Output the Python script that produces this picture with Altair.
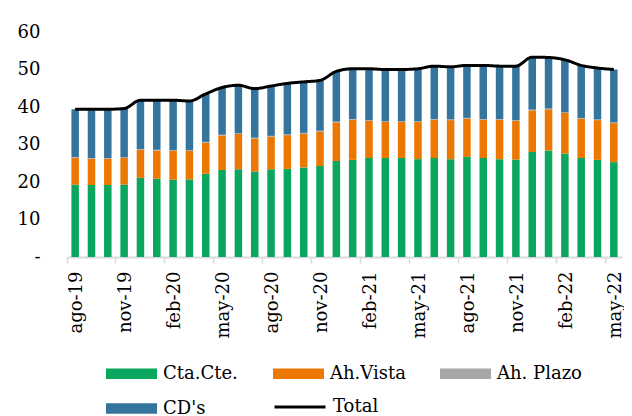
import altair as alt
import pandas as pd

meses = ["ago-19","sep-19","oct-19","nov-19","dic-19","ene-20","feb-20","mar-20","abr-20","may-20",
         "jun-20","jul-20","ago-20","sep-20","oct-20","nov-20","dic-20","ene-21","feb-21","mar-21",
         "abr-21","may-21","jun-21","jul-21","ago-21","sep-21","oct-21","nov-21","dic-21","ene-22",
         "feb-22","mar-22","abr-22","may-22"]

cta_cte = [19.3,19.2,19.2,19.3,21.1,20.9,20.6,20.7,22.2,23.2,23.4,22.8,23.4,23.5,23.9,24.3,25.6,
           25.9,26.4,26.4,26.4,26.1,26.4,26.1,26.7,26.4,26.1,26.0,28.0,28.4,27.6,26.4,25.9,25.3]
ah_vista = [7.2,7.0,7.0,7.1,7.5,7.5,7.7,7.6,8.3,9.2,9.4,8.8,8.7,9.0,9.0,9.2,10.3,10.7,9.9,9.6,
            9.6,9.9,10.2,10.4,10.2,10.2,10.5,10.3,11.1,11.0,10.8,10.5,10.6,10.4]
ah_plazo = [0.2]*34
cds = [12.7,13.0,13.0,13.0,13.0,13.2,13.3,13.1,12.8,12.6,12.8,13.1,13.3,13.6,13.6,13.4,13.4,13.4,
       13.7,13.8,13.8,14.0,14.1,14.0,14.0,14.3,14.1,14.4,14.0,13.6,14.0,14.0,13.7,14.1]

series = ["Cta.Cte.", "Ah.Vista", "Ah. Plazo", "CD's"]
colores = ["#0aa65d", "#ec7702", "#a6a6a6", "#35749d"]
tick_meses = meses[::3]
y_ticks = [0, 10, 20, 30, 40, 50, 60]

rows = []
for i, m in enumerate(meses):
    for k, (s, vals) in enumerate(zip(series, [cta_cte, ah_vista, ah_plazo, cds])):
        rows.append({"mes": m, "serie": s, "valor": vals[i], "orden": k})
df = pd.DataFrame(rows)
df_tot = pd.DataFrame({"mes": meses, "tipo": "Total",
                       "total": [a + b + c + d for a, b, c, d in zip(cta_cte, ah_vista, ah_plazo, cds)]})

FONT = "DejaVu Serif"

xscale = alt.Scale(domain=meses, paddingInner=0, paddingOuter=0)
xaxis = alt.Axis(values=tick_meses, title=None, bandPosition=0, labelAngle=270,
                 labelAlign="right", labelBaseline="middle", labelOffset=2, labelPadding=8,
                 tickSize=6, tickColor="#d9d9d9", tickWidth=1.5, domainColor="#d9d9d9",
                 domainWidth=2, labelFont=FONT, labelFontSize=18, labelColor="#000000",
                 labelOverlap=False)
yscale = alt.Scale(domain=[0, 60], nice=False)
yaxis = alt.Axis(values=y_ticks, title=None, grid=False, domain=False,
                 ticks=False, labelPadding=27, labelFont=FONT, labelFontSize=18,
                 labelColor="#000000", labelOverlap=False, labelFlush=False,
                 labelExpr="datum.value == 0 ? '-' : datum.label")

legend_bars = alt.Legend(
    title=None, orient="none", legendX=39, legendY=316, direction="horizontal", columns=3,
    symbolType="M-1,-0.21L1,-0.21L1,0.21L-1,0.21Z", symbolSize=2601, symbolStrokeWidth=0,
    labelFont=FONT, labelFontSize=18, labelColor="#000000", labelOffset=6,
    columnPadding=25, rowPadding=-19, gridAlign="all", labelLimit=200,
)
legend_line = alt.Legend(
    title=None, orient="none", legendX=206, legendY=348, direction="horizontal",
    symbolType="stroke", symbolSize=2601, symbolStrokeWidth=3, symbolStrokeColor="#000000",
    labelFont=FONT, labelFontSize=18, labelColor="#000000", labelOffset=6, labelLimit=200,
)

bars = alt.Chart(df).mark_bar(width=alt.RelativeBandSize(0.46)).encode(
    x=alt.X("mes:N", sort=meses, scale=xscale, axis=xaxis),
    y=alt.Y("valor:Q", stack="zero", scale=yscale, axis=yaxis),
    color=alt.Color("serie:N", scale=alt.Scale(domain=series, range=colores), legend=legend_bars),
    order=alt.Order("orden:Q"),
)

line = alt.Chart(df_tot).mark_line(color="#000000", strokeWidth=3, interpolate="monotone").encode(
    x=alt.X("mes:N", sort=meses, scale=xscale, axis=xaxis),
    y=alt.Y("total:Q", scale=yscale, axis=yaxis),
    strokeDash=alt.StrokeDash("tipo:N", scale=alt.Scale(domain=["Total"], range=[[1, 0]]),
                              legend=legend_line),
)

chart = alt.layer(bars, line).properties(
    width=555, height=225,
    autosize=alt.AutoSizeParams(type="none"),
    padding={"left": 59, "top": 24, "right": 2, "bottom": 159},
).configure_view(stroke=None).configure_axis(labelOverlap=False)

chart.save("out.html", embed_options={"renderer": "svg", "actions": False})
